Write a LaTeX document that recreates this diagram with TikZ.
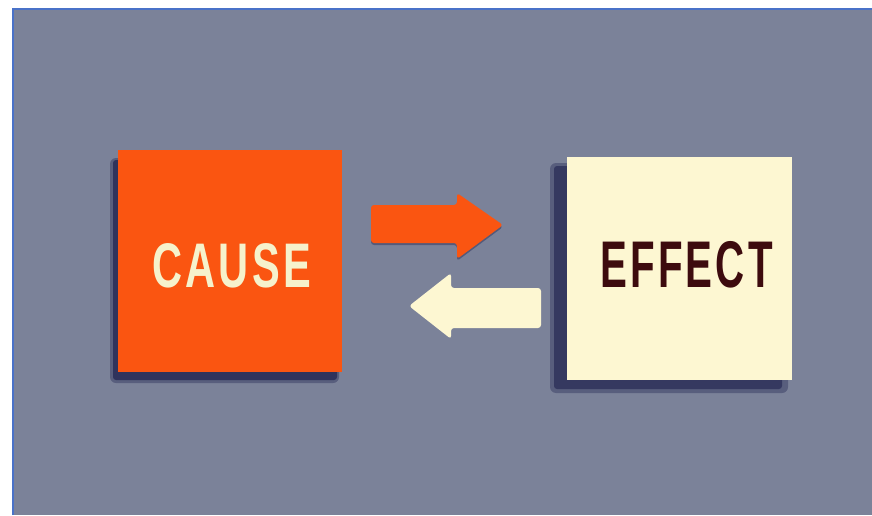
\documentclass[tikz,border=0pt]{standalone}
\usepackage{fontspec}
\setmainfont{Liberation Sans}
\newfontfamily\spacedfont[LetterSpace=8]{Liberation Sans}
\definecolor{bgc}{HTML}{7B8299}
\definecolor{framec}{HTML}{4A72C8}
\definecolor{orangec}{HTML}{FA5511}
\definecolor{creamc}{HTML}{FDF7D2}
\definecolor{creamtxt}{HTML}{F6F2CC}
\definecolor{effecttxt}{HTML}{3D0B0E}
\definecolor{shadowc}{HTML}{2F335C}
\tikzset{
  boxshadow/.style={fill=shadowc, rounded corners=3pt},
  softshadow/.style={fill=shadowc, opacity=0.45, rounded corners=6pt},
  causebox/.style={rectangle, fill=orangec, minimum width=224pt, minimum height=222pt, inner sep=0pt},
  effectbox/.style={rectangle, fill=creamc, minimum width=225pt, minimum height=223pt, inner sep=0pt},
  bigword/.style={inner sep=0pt, anchor=base west},
  arrowshape/.style={rounded corners=3pt}
}
\begin{document}
\begin{tikzpicture}[x=1pt,y=-1pt]
\useasboundingbox (0,0) rectangle (872,516);
% background
\fill[bgc] (12,8) rectangle (872,515);
\draw[framec, line width=2.2pt] (13,515) -- (13,9) -- (872,9);
% cause shadow
\fill[softshadow] (110,158) rectangle (339,383);
\fill[boxshadow] (113,160) rectangle (337,380);
\node[causebox] (cause) at (230,261) {};
\node[bigword, text=creamtxt, font=\fontsize{63}{63}\spacedfont\bfseries] (causelbl) at (152,287) {\scalebox{0.66}[1]{CAUSE}};
% effect shadow
\fill[softshadow] (550,163) rectangle (788,393);
\fill[boxshadow, opacity=0.85] (554,166) rectangle (782,389);
\node[effectbox] (effect) at (679.5,268.5) {};
\node[bigword, text=effecttxt, font=\fontsize{66}{66}\spacedfont\bfseries] (effectlbl) at (600,287) {\scalebox{0.61}[1]{EFFECT}};
% arrows
\fill[shadowc, opacity=0.5, arrowshape] (371,207) -- (457,207) -- (457,195) -- (503,227) -- (457,261) -- (457,245) -- (371,245) -- cycle;
\fill[orangec, arrowshape] (371,205) -- (457,205) -- (457,193) -- (503,225) -- (457,259) -- (457,243) -- (371,243) -- cycle;
\fill[creamc, arrowshape] (541,288) -- (451,288) -- (451,273) -- (409,306) -- (451,339) -- (451,328) -- (541,328) -- cycle;
\end{tikzpicture}
\end{document}
